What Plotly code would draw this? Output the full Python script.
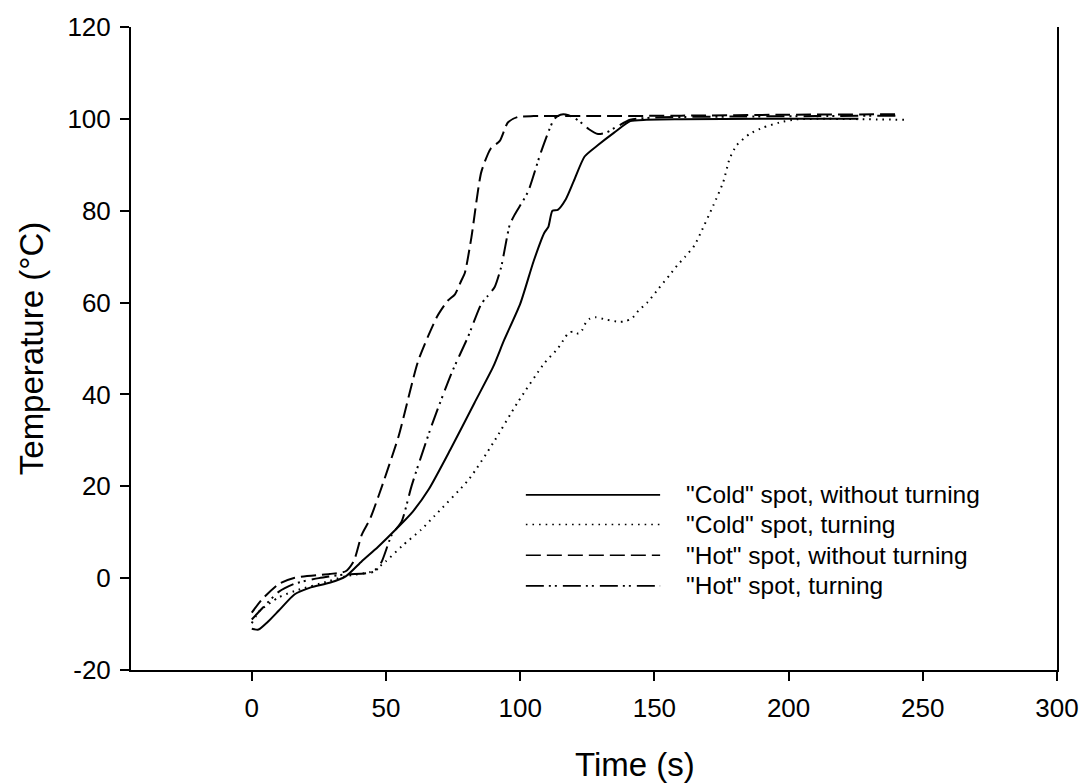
import plotly.graph_objects as go

# ---- data ----
cold_still_x = [0, 2.5, 6, 10, 16, 22, 29, 35, 41, 47, 54, 60, 66, 74, 83, 90, 94, 100, 105, 109,
                110.5, 112, 114, 117, 120, 124, 129, 135, 141, 147, 160, 190, 226]
cold_still_y = [-11, -11.2, -9.5, -7.1, -3.5, -2.0, -1.0, 0.4, 3.7, 6.8, 10.8, 14.5, 19.4, 28, 38.2, 46.1,
                51.8, 59.7, 69, 75.2, 76.5, 80, 80.2, 82.5, 86.5, 91.8, 94.3, 97, 99.5, 99.8, 99.9, 100, 100]

cold_turn_x = [0, 3, 10, 16, 29, 35, 45, 50, 56, 63, 68, 81, 90, 99, 109, 114, 116.5, 118, 120, 121.7,
               123.2, 124.5, 126, 128, 132, 137, 139, 141.5, 144, 147.5, 151.5, 155.7, 158.5, 161.5, 165,
               167.5, 172, 175.7, 178, 180.6, 185.4, 190.5, 196.6, 203, 215, 243]
cold_turn_y = [-9.8, -7.1, -4.2, -2.8, -0.6, 0.4, 1.5, 3.7, 7.0, 10.5, 13.5, 21.6, 29.5, 38.2, 46.8, 50.0,
               52.2, 53.4, 53.7, 53.2, 54.1, 55.7, 56.5, 56.8, 56.3, 55.8, 55.9, 56.5, 58.2, 60.1, 63.0,
               66.0, 68.1, 70.0, 72.5, 75.5, 81.2, 86.3, 91.3, 94.2, 96.7, 98.1, 99.2, 99.9, 100, 99.8]

hot_still_x = [0, 4, 10, 16, 29, 35, 38, 41, 44, 47.3, 54.7, 62, 69, 73, 75.7, 78, 79.4, 81.8, 85.5, 89,
               92.4, 95.4, 99, 105, 130, 160, 200, 241]
hot_still_y = [-7.5, -4.5, -1.3, 0.1, 0.9, 1.5, 3.7, 9.5, 12.8, 18, 30.9, 47.3, 56.9, 60.4, 61.8, 64.7,
               66.5, 74.1, 88.4, 93.5, 95.2, 99.2, 100.4, 100.6, 100.6, 100.7, 100.9, 101.0]

hot_turn_x = [0, 4, 10, 16, 25, 35, 42, 46, 48.5, 52.2, 55.8, 59.6, 67, 74.4, 80.6, 85.5, 88, 90.5, 92.9,
              96.1, 97.9, 102.9, 107.7, 112.7, 115, 118, 122, 125.5, 129, 132, 136, 141, 150, 180, 210, 240]
hot_turn_y = [-9, -6.5, -3, -1.2, 0.0, 0.8, 1.0, 1.5, 3.7, 9.5, 12.3, 20.2, 33.2, 44.6, 52.6, 59.7, 61.5,
              63.4, 67.7, 76.9, 79.1, 84.1, 92.7, 100, 100.9, 100.8, 99.5, 97.8, 96.7, 97, 98.3, 99.8,
              100.3, 100.5, 100.6, 100.7]

series_names = ['"Cold" spot, without turning', '"Cold" spot, turning',
                '"Hot" spot, without turning', '"Hot" spot, turning']
x_ticks = [0, 50, 100, 150, 200, 250, 300]
y_ticks = [-20, 0, 20, 40, 60, 80, 100, 120]
y_tick_text = ["-20", "0", "20", "40", "60", "80", "100", "120"]

FONT = "Liberation Sans, Arial, sans-serif"
dashes = ["solid", "1.6px,5px", "15px,6px", "18px,5px,2px,4px,2px,6px"]
series = [(cold_still_x, cold_still_y), (cold_turn_x, cold_turn_y),
          (hot_still_x, hot_still_y), (hot_turn_x, hot_turn_y)]

fig = go.Figure()
for (xs, ys), name, d in zip(series, series_names, dashes):
    fig.add_trace(go.Scatter(x=xs, y=ys, mode="lines", name=name, showlegend=False,
                             line=dict(color="black", width=2, dash=d, shape="spline", smoothing=0.6)))

# manual legend (long line samples like the original)
leg_y = [0.2723, 0.2262, 0.1785, 0.1308]
for name, d, yy in zip(series_names, dashes, leg_y):
    fig.add_shape(type="line", xref="paper", yref="paper", x0=0.4264, x1=0.5714, y0=yy, y1=yy,
                  line=dict(color="black", width=1.6, dash=d))
    fig.add_annotation(xref="paper", yref="paper", x=0.5972, y=yy, text=name, showarrow=False,
                       xanchor="left", yanchor="middle", font=dict(family=FONT, size=24.5, color="black"))

# x-axis title (placed like the original, slightly right of centre)
fig.add_annotation(xref="paper", yref="paper", x=0.5446, y=-0.1462, text="Time (s)", showarrow=False,
                   xanchor="center", yanchor="middle", font=dict(family=FONT, size=33, color="black"))

fig.update_layout(
    width=1091, height=784,
    margin=dict(l=131, r=29, t=20, b=114),
    plot_bgcolor="white", paper_bgcolor="white",
    font=dict(family=FONT, color="black"),
    showlegend=False,
)
fig.update_xaxes(range=[-45, 300], tickvals=x_ticks, showgrid=False, zeroline=False,
                 showline=True, linecolor="black", linewidth=2, mirror=False,
                 ticks="outside", ticklen=9, tickwidth=2, tickcolor="black",
                 tickfont=dict(family=FONT, size=26), ticklabelstandoff=5)
fig.update_yaxes(range=[-20, 120], tickvals=y_ticks, ticktext=y_tick_text, showgrid=False, zeroline=False,
                 showline=True, linecolor="black", linewidth=2, mirror=True,
                 ticks="outside", ticklen=9, tickwidth=2, tickcolor="black",
                 tickfont=dict(family=FONT, size=26), ticklabelstandoff=4,
                 title=dict(text="Temperature (°C)", font=dict(family=FONT, size=33), standoff=14))

fig.write_html("out.html")
